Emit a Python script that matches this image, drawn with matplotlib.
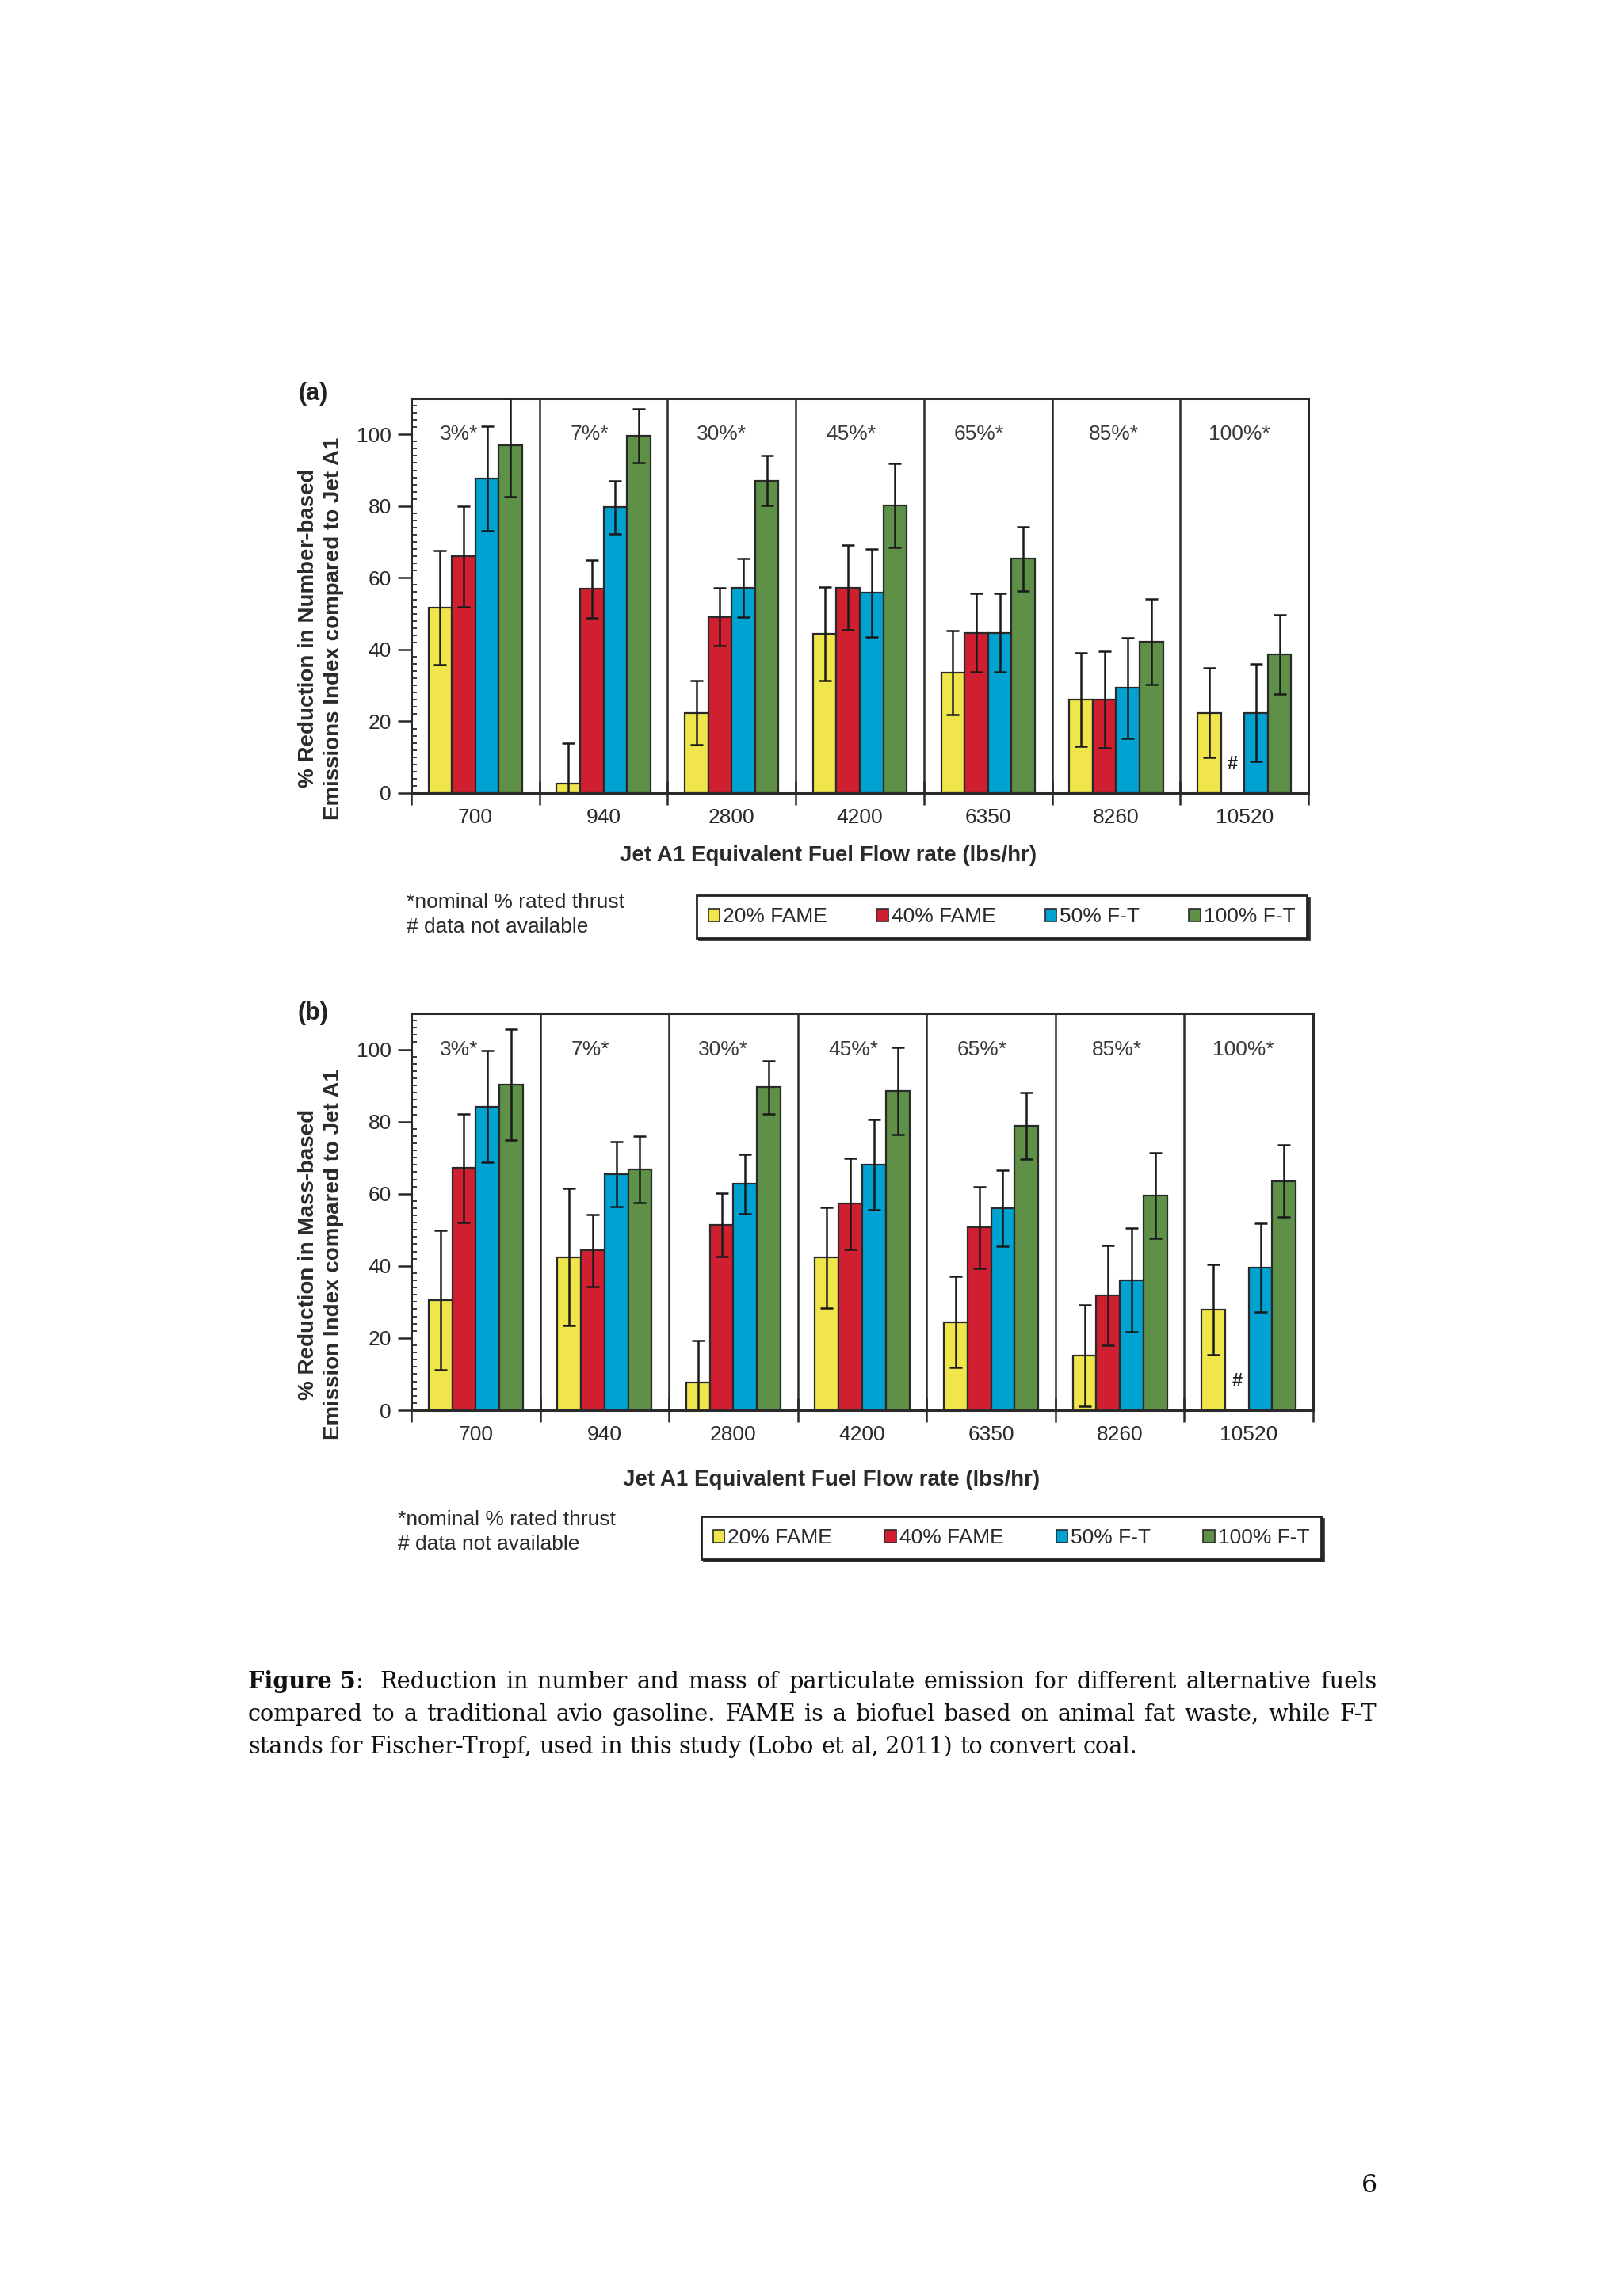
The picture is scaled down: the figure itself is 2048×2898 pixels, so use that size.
import numpy as np
import matplotlib.pyplot as plt
from matplotlib.patches import Patch
from matplotlib.ticker import MultipleLocator

flows = ['700', '940', '2800', '4200', '6350', '8260', '10520']
thrust = ['3%*', '7%*', '30%*', '45%*', '65%*', '85%*', '100%*']
series = ['20% FAME', '40% FAME', '50% F-T', '100% F-T']
colors = ['#F0E64C', '#D01F30', '#00A2D2', '#5E9047']

# (a) number-based reduction, one row per fuel
num_vals = [
    [51.7, 2.6, 22.4, 44.4, 33.6, 26.0, 22.4],
    [66.0, 56.9, 49.1, 57.3, 44.7, 26.0, np.nan],
    [87.7, 79.7, 57.2, 55.8, 44.7, 29.3, 22.4],
    [97.0, 99.6, 87.1, 80.1, 65.3, 42.2, 38.6],
]
num_errs = [
    [16.0, 11.4, 9.0, 13.0, 11.7, 13.0, 12.5],
    [14.0, 8.0, 8.0, 11.8, 11.0, 13.5, np.nan],
    [14.5, 7.4, 8.2, 12.3, 11.0, 14.0, 13.5],
    [14.5, 7.5, 7.0, 11.7, 9.0, 12.0, 11.0],
]
# (b) mass-based reduction
mass_vals = [
    [30.5, 42.4, 7.6, 42.3, 24.4, 15.2, 27.8],
    [67.1, 44.3, 51.4, 57.2, 50.7, 31.8, np.nan],
    [84.2, 65.4, 62.7, 68.0, 56.0, 36.1, 39.6],
    [90.2, 66.7, 89.5, 88.5, 78.8, 59.5, 63.5],
]
mass_errs = [
    [19.3, 19.0, 11.8, 14.0, 12.6, 14.0, 12.5],
    [15.0, 10.0, 8.8, 12.7, 11.3, 13.8, np.nan],
    [15.5, 9.0, 8.3, 12.5, 10.5, 14.3, 12.3],
    [15.4, 9.2, 7.4, 12.0, 9.3, 11.9, 10.0],
]

W, H = 2048, 2898
SANS = ['Liberation Sans', 'DejaVu Sans']
SERIF = ['DejaVu Serif']
INK = '#2a2a2a'

fig = plt.figure(figsize=(W / 100, H / 100), dpi=100)
fig.patch.set_facecolor('white')


def fx(px):
    return px / W


def fy(py):
    return 1 - py / H


def px_axes(x0, y0, x1, y1):
    return fig.add_axes([fx(x0), fy(y1), (x1 - x0) / W, (y1 - y0) / H])


def panel(ax, vals, errs):
    x = np.arange(len(flows))
    bw = 0.183
    offs = [-1.5, -0.5, 0.5, 1.5]
    for k in range(len(series)):
        v = np.array(vals[k])
        e = np.array(errs[k])
        xs = x + offs[k] * bw
        ax.bar(xs, v, bw, color=colors[k], edgecolor=INK, linewidth=1.6, zorder=2)
        ax.errorbar(xs, v, yerr=e, fmt='none', ecolor='#1a1a1a', elinewidth=1.8,
                    capsize=6, capthick=1.8, zorder=3)
        for i in np.where(np.isnan(v))[0]:
            ax.text(xs[i], 8, '#', ha='center', va='center', fontsize=17,
                    fontweight='bold', color='#222222', family=SANS)
    for b in x[:-1] + 0.5:
        ax.axvline(b, color=INK, linewidth=1.8, zorder=1)
    toffs = [-0.13, -0.11, -0.08, -0.07, -0.07, -0.02, -0.04]
    for i, lab in enumerate(thrust):
        ax.text(i + toffs[i], 100, lab, ha='center', va='center', fontsize=19,
                color='#3a3a3a', family=SANS)
    ax.set_xlim(-0.5, len(flows) - 0.5)
    ax.set_ylim(0, 110)
    ax.set_xticks(np.arange(-0.5, len(flows), 1.0))
    ax.set_xticklabels([])
    ax.set_xticks(x, minor=True)
    ax.set_xticklabels(flows, minor=True, family=SANS, fontsize=19, color=INK)
    ax.tick_params(axis='x', which='major', direction='inout', length=22, width=1.8, color=INK)
    ax.tick_params(axis='x', which='minor', length=0, pad=14)
    ax.set_yticks(range(0, 101, 20))
    ax.yaxis.set_minor_locator(MultipleLocator(2))
    ax.tick_params(axis='y', which='major', direction='out', length=12, width=1.8,
                   color=INK, labelsize=19, labelcolor=INK, pad=6)
    ax.tick_params(axis='y', which='minor', direction='in', length=5, width=1.3, color=INK)
    for lab in ax.get_yticklabels():
        lab.set_family(SANS)
    for s in ax.spines.values():
        s.set_color(INK)
        s.set_linewidth(2.2)


def legend_box(x0, y0, x1, y1):
    handles = [Patch(facecolor=c, edgecolor=INK, linewidth=1.2) for c in colors]
    leg = fig.legend(handles, series, loc='center',
                     bbox_to_anchor=(fx(x0), fy(y1), (x1 - x0) / W, (y1 - y0) / H),
                     mode='expand', ncol=4, frameon=True, fancybox=False,
                     handlelength=0.55, handleheight=0.55, handletextpad=0.15,
                     borderpad=0.55, borderaxespad=0, columnspacing=1.0,
                     prop={'family': SANS, 'size': 19},
                     shadow={'color': '#222222', 'alpha': 0.9})
    leg.get_frame().set_edgecolor('#222222')
    leg.get_frame().set_linewidth(2.0)
    for t in leg.get_texts():
        t.set_color(INK)


def footnote(x, y1, y2):
    fig.text(fx(x), fy(y1), '*nominal % rated thrust', ha='left', va='center',
             fontsize=19, color=INK, family=SANS)
    fig.text(fx(x), fy(y2), '# data not available', ha='left', va='center',
             fontsize=19, color=INK, family=SANS)


# panel (a)
axa = px_axes(519, 503, 1651, 1001)
panel(axa, num_vals, num_errs)
fig.text(fx(395), fy(497), '(a)', ha='center', va='center', fontsize=22,
         fontweight='bold', color='#222222', family=SANS)
fig.text(fx(405), fy(793), '% Reduction in Number-based\nEmissions Index compared to Jet A1',
         rotation=90, ha='center', va='center', multialignment='center', linespacing=1.25,
         fontsize=20, fontweight='bold', color=INK, family=SANS)
fig.text(fx(1045), fy(1080), 'Jet A1 Equivalent Fuel Flow rate (lbs/hr)', ha='center',
         va='center', fontsize=20, fontweight='bold', color=INK, family=SANS)
footnote(513, 1139, 1170)
legend_box(879, 1127, 1649, 1187)

# panel (b)
axb = px_axes(519, 1279, 1657, 1780)
panel(axb, mass_vals, mass_errs)
fig.text(fx(395), fy(1279), '(b)', ha='center', va='center', fontsize=22,
         fontweight='bold', color='#222222', family=SANS)
fig.text(fx(405), fy(1583), '% Reduction in Mass-based\nEmission Index compared to Jet A1',
         rotation=90, ha='center', va='center', multialignment='center', linespacing=1.25,
         fontsize=20, fontweight='bold', color=INK, family=SANS)
fig.text(fx(1049), fy(1868), 'Jet A1 Equivalent Fuel Flow rate (lbs/hr)', ha='center',
         va='center', fontsize=20, fontweight='bold', color=INK, family=SANS)
footnote(502, 1918, 1949)
legend_box(885, 1911, 1667, 1971)

# caption, justified like the document text
cap_lines = [
    [[('Figure 5', 'bold'), (':', 'normal')], [('Reduction', 'normal')]] +
    [[(w, 'normal')] for w in 'in number and mass of particulate emission for different alternative fuels'.split()],
    [[(w, 'normal')] for w in 'compared to a traditional avio gasoline. FAME is a biofuel based on animal fat waste, while F-T'.split()],
    [[(w, 'normal')] for w in 'stands for Fischer-Tropf, used in this study (Lobo et al, 2011) to convert coal.'.split()],
]
renderer = fig.canvas.get_renderer()
cap_x0, cap_x1 = 313, 1737
cap_base = [2131, 2172, 2213]

# pick the size so the last (unjustified) line is as long as in the document
probe = fig.text(0, 0, 'stands for Fischer-Tropf, used in this study (Lobo et al, 2011) to convert coal.',
                 fontsize=20, family=SERIF)
cap_size = 20 * 1127 / probe.get_window_extent(renderer).width
probe.remove()

space_w = cap_size * 100 / 72 * 0.3
for li, words in enumerate(cap_lines):
    drawn = []
    for word in words:
        segs = []
        for s, wt in word:
            t = fig.text(0, fy(cap_base[li]), s, ha='left', va='baseline', fontsize=cap_size,
                         fontweight=wt, color='#111111', family=SERIF)
            segs.append((t, t.get_window_extent(renderer).width))
        drawn.append(segs)
    widths = [sum(w for _, w in segs) for segs in drawn]
    extra = space_w if li == 0 else 0
    if li < len(cap_lines) - 1:
        gap = (cap_x1 - cap_x0 - sum(widths) - extra) / (len(drawn) - 1)
    else:
        gap = space_w
    xpos = cap_x0
    for wi, segs in enumerate(drawn):
        if li == 0 and wi == 1:
            xpos += extra
        xx = xpos
        for t, w in segs:
            t.set_x(fx(xx))
            xx += w
        xpos = xx + gap

fig.text(fx(1728), fy(2767), '6', ha='center', va='baseline', fontsize=cap_size * 1.1,
         color='#111111', family=SERIF)

fig.savefig('out.png', dpi=100, facecolor='white')
